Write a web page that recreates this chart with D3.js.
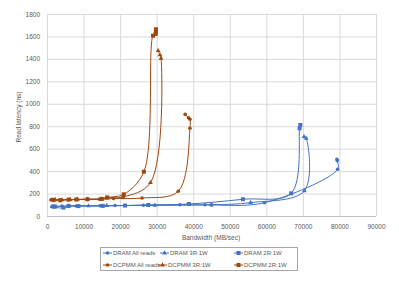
<!DOCTYPE html>
<html>
<head>
<meta charset="utf-8">
<script src="https://cdn.jsdelivr.net/npm/d3@7"></script>
<style>
  body { margin: 0; background: #fff; }
  text { font-family: "Liberation Sans", Arial, sans-serif; fill: #595959; }
</style>
</head>
<body>
<svg id="chart"></svg>
<script>
// chart size
const WIDTH = 399
const HEIGHT = 282
const SVG = d3.select('#chart').attr('width', WIDTH).attr('height', HEIGHT)

// data: [bandwidth MB/s, latency ns], in load order
const dramAll = [[79300,505],[79400,493],[79500,416],[59500,118],[45000,99],[43200,100],[36350,100],[26350,96],[18600,93],[14500,91],[8000,89],[4090,88],[2260,84],[1360,83]]
const dram3r1w = [[70300,707],[70900,692],[70400,224],[55700,119],[45000,100],[29500,95],[16350,92],[11350,90],[5900,88],[4530,70],[1400,84]]
const dram2r1w = [[69300,811],[69100,781],[66800,202],[53600,149],[38800,107],[27700,98],[21350,93],[15250,90],[8600,88],[5900,89],[2260,84],[1800,84]]
const dcpmmAll = [[37800,906],[38700,876],[39100,862],[39100,782],[35900,220],[26000,160],[18200,155],[14350,150],[11100,148],[8000,147],[5900,146],[3630,145],[1800,144],[1090,144]]
const dcpmm3r1w = [[30400,1473],[30900,1435],[31200,1405],[28300,297],[20800,170],[16200,162],[14700,152],[10900,150],[8350,148],[6350,146],[4100,143],[2270,144],[1370,143]]
const dcpmm2r1w = [[29800,1664],[29800,1640],[29700,1622],[29000,1607],[26500,395],[21000,193],[16500,165],[15000,152],[11100,149],[8000,147],[5900,146],[3630,140],[1800,144]]

const xTicks = [0,10000,20000,30000,40000,50000,60000,70000,80000,90000]
const yTicks = [0,200,400,600,800,1000,1200,1400,1600,1800]

const BLUE = '#4472C4'
const BROWN = '#9E480E'

const series = [
  {name: 'DRAM All reads', data: dramAll, color: BLUE, shape: 'circle'},
  {name: 'DRAM 3R:1W', data: dram3r1w, color: BLUE, shape: 'triangle'},
  {name: 'DRAM 2R:1W', data: dram2r1w, color: BLUE, shape: 'square'},
  {name: 'DCPMM All reads', data: dcpmmAll, color: BROWN, shape: 'circle'},
  {name: 'DCPMM 3R:1W', data: dcpmm3r1w, color: BROWN, shape: 'triangle'},
  {name: 'DCPMM 2R:1W', data: dcpmm2r1w, color: BROWN, shape: 'square'}
]

// plot area
const LEFT = 47, RIGHT = 376, TOP = 14, BOTTOM = 216

let xScale = d3.scaleLinear().domain([0, 90000]).range([LEFT, RIGHT])
let yScale = d3.scaleLinear().domain([0, 1800]).range([BOTTOM, TOP])

// gridlines
let x_axis = d3.axisBottom(xScale).tickValues(xTicks).tickSize(-(BOTTOM - TOP)).tickFormat(d3.format('d'))
let gx = SVG.append('g').attr('transform', 'translate(0,' + BOTTOM + ')').call(x_axis)
gx.select('.domain').remove()
gx.selectAll('line').attr('stroke', '#d9d9d9').attr('stroke-width', 1)
gx.selectAll('text').attr('dy', 0).attr('y', 12.5).style('font-size', '6.5px').attr('fill', '#595959')

let y_axis = d3.axisLeft(yScale).tickValues(yTicks).tickSize(-(RIGHT - LEFT)).tickFormat(d3.format('d'))
let gy = SVG.append('g').attr('transform', 'translate(' + LEFT + ',0)').call(y_axis)
gy.select('.domain').remove()
gy.selectAll('line').attr('stroke', '#d9d9d9').attr('stroke-width', 1)
gy.selectAll('text').attr('x', -7).style('font-size', '6.5px').attr('fill', '#595959')
// bottom axis line a bit darker
SVG.append('line').attr('x1', LEFT).attr('x2', RIGHT).attr('y1', BOTTOM + 0.5).attr('y2', BOTTOM + 0.5)
  .attr('stroke', '#bfbfbf')

// titles
SVG.append('text').attr('x', 211).attr('y', 240).attr('text-anchor', 'middle')
  .style('font-size', '6.5px').text('Bandwidth (MB/sec)')
SVG.append('text').attr('transform', 'translate(21,117) rotate(-90)').attr('text-anchor', 'middle')
  .style('font-size', '6.5px').text('Read latency (ns)')

function drawMarker(g, shape, color, x, y) {
  if (shape === 'circle') {
    g.append('circle').attr('cx', x).attr('cy', y).attr('r', 1.8).attr('fill', color)
  } else if (shape === 'square') {
    g.append('rect').attr('x', x - 2).attr('y', y - 2).attr('width', 4).attr('height', 4).attr('fill', color)
  } else {
    g.append('path').attr('d', d3.symbol(d3.symbolTriangle, 10)()).attr('transform', 'translate(' + x + ',' + y + ')').attr('fill', color)
  }
}

const line = d3.line().x(d => xScale(d[0])).y(d => yScale(d[1])).curve(d3.curveCatmullRom.alpha(0.5))

series.forEach(s => {
  let g = SVG.append('g')
  g.append('path').attr('d', line(s.data)).attr('fill', 'none').attr('stroke', s.color).attr('stroke-width', 1)
  s.data.forEach(d => drawMarker(g, s.shape, s.color, xScale(d[0]), yScale(d[1])))
})

// legend
const legendPos = [[103, 253], [160, 253], [234, 253], [103, 265], [158, 265], [234, 265]]
SVG.append('rect').attr('x', 100.5).attr('y', 247.5).attr('width', 197).attr('height', 23)
  .attr('fill', '#fff').attr('stroke', '#a6a6a6').attr('stroke-width', 1)
series.forEach((s, i) => {
  let [lx, ly] = legendPos[i]
  let g = SVG.append('g')
  g.append('line').attr('x1', lx).attr('x2', lx + 9).attr('y1', ly).attr('y2', ly).attr('stroke', s.color)
  drawMarker(g, s.shape, s.color, lx + 4.5, ly)
  g.append('text').attr('x', lx + 10).attr('y', ly + 2.2).style('font-size', '6px').text(s.name)
})
</script>
</body>
</html>
